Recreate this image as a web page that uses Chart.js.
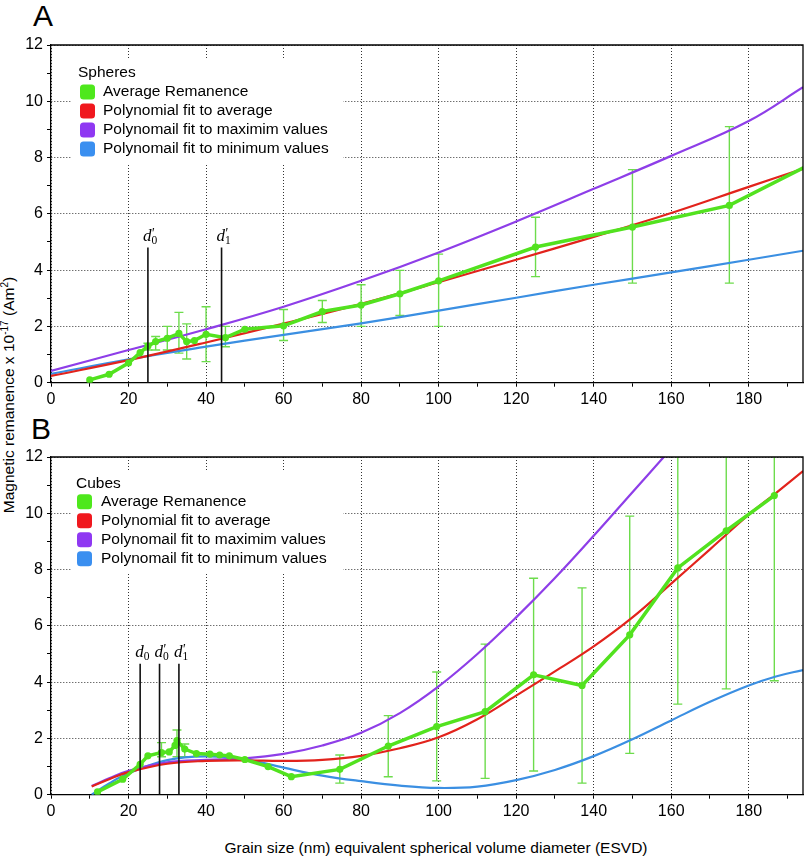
<!DOCTYPE html>
<html><head><meta charset="utf-8">
<script src="https://cdn.jsdelivr.net/npm/chart.js@4.4.1/dist/chart.umd.min.js"></script>
<style>
html,body{margin:0;padding:0;background:#fff;}
body{width:807px;height:857px;position:relative;overflow:hidden;font-family:"Liberation Sans",Arial,Helvetica,sans-serif;color:#000;}
canvas{position:absolute;left:0;}
#cA{top:0px;}
#cB{top:415px;}
.panel{position:absolute;font-size:30px;line-height:30px;}
#yt{position:absolute;left:9px;top:395px;transform:translate(-50%,-50%) rotate(-90deg);white-space:nowrap;font-size:15.5px;line-height:18px;}
#xt{position:absolute;left:436px;top:848px;transform:translate(-50%,-50%);white-space:nowrap;font-size:15.5px;line-height:18px;}
sup{font-size:0.65em;vertical-align:super;line-height:0;}
</style></head>
<body>
<div class="panel" style="left:33px;top:1px;">A</div>
<div class="panel" style="left:31px;top:414px;">B</div>
<div id="yt">Magnetic remanence x 10<sup>-17</sup> (Am<sup>2</sup>)</div>
<div id="xt">Grain size (nm) equivalent spherical volume diameter (ESVD)</div>
<canvas id="cA" width="807" height="415"></canvas>
<canvas id="cB" width="807" height="442"></canvas>
<script>
// ---------- Panel A : Spheres ----------
const sizesA   = [10, 15, 20, 23, 25, 27, 30, 33, 35, 37, 40, 45, 50, 60, 70, 80, 90, 100, 125, 150, 175, 200];
const avgA     = [0.1, 0.3, 0.7, 1.07, 1.3, 1.46, 1.58, 1.75, 1.46, 1.5, 1.72, 1.6, 1.9, 2.02, 2.53, 2.76, 3.16, 3.62, 4.82, 5.53, 6.3, 8.05];
const errLowA  = [null, null, null, null, 1.16, 1.16, 1.16, 1.05, 0.84, null, 0.75, 1.28, null, 1.5, 2.14, 2.0, 2.39, 2.0, 3.77, 3.54, 3.54, null];
const errHighA = [null, null, null, null, 1.4, 1.64, 2.0, 2.5, 2.09, null, 2.7, 2.0, null, 2.6, 2.92, 3.48, 3.99, 4.57, 5.88, 7.57, 9.1, null];
const fitXA    = [0, 20, 40, 60, 80, 100, 120, 140, 160, 180, 194];
const fitAvgA  = [0.24, 0.8, 1.43, 2.1, 2.8, 3.57, 4.37, 5.18, 6.03, 6.96, 7.6];
const fitMaxA  = [0.42, 1.16, 1.9, 2.7, 3.62, 4.63, 5.73, 6.89, 8.06, 9.3, 10.5];
const fitMinA  = [0.31, 0.83, 1.28, 1.7, 2.11, 2.56, 3.02, 3.48, 3.92, 4.37, 4.69];
const markerXA = [25, 44];
const markerTopA = 4.8;
const markerLabA = [['d', "'", '0'], ['d', "'", '1']];

// ---------- Panel B : Cubes ----------
const sizesB   = [12, 18.5, 23, 25, 28.5, 30.5, 32, 32.5, 34.5, 37.5, 41, 43.5, 46, 50, 56, 62, 74.5, 87, 99.5, 112, 124.5, 137, 149.3, 161.7, 174.2, 186.6];
const avgB     = [0.1, 0.55, 1.08, 1.38, 1.5, 1.52, 1.75, 1.92, 1.62, 1.46, 1.44, 1.41, 1.38, 1.25, 1.0, 0.64, 0.9, 1.73, 2.42, 2.95, 4.26, 3.88, 5.68, 8.06, 9.38, 10.63];
const errLowB  = [null, null, null, null, 1.35, null, null, 1.35, 1.35, null, null, null, null, null, null, null, 0.41, 0.64, 0.49, 0.58, 0.84, 0.41, 1.47, 3.22, 3.76, 4.05];
const errHighB = [null, null, null, null, 1.85, null, null, 2.3, 1.8, null, null, null, null, null, null, null, 1.41, 2.81, 4.36, 5.35, 7.69, 7.35, 9.9, 14, 15, 16];
const fitXB    = [10.5, 15, 20, 30, 40, 50, 60, 70, 80, 90, 100, 110, 120, 130, 140, 150, 160, 170, 180, 187, 194];
const fitAvgB  = [0.29, 0.55, 0.8, 1.1, 1.2, 1.22, 1.2, 1.24, 1.38, 1.65, 2.04, 2.68, 3.52, 4.38, 5.27, 6.3, 7.5, 8.72, 9.95, 10.72, 11.5];
const fitMaxB  = [0.31, 0.58, 0.85, 1.15, 1.24, 1.29, 1.45, 1.75, 2.2, 2.9, 3.85, 5.0, 6.3, 7.7, 9.2, 10.75, 12.3, 13.9, 15.5, 16.7, 17.9];
const fitMinB  = [0.0, 0.4, 0.76, 1.23, 1.36, 1.26, 0.96, 0.68, 0.48, 0.32, 0.24, 0.29, 0.52, 0.88, 1.37, 1.97, 2.64, 3.3, 3.88, 4.2, 4.43];
const markerXB = [23, 28, 33];
const markerTopB = 4.65;
const markerLabB = [['d', '', '0'], ['d', "'", '0'], ['d', "'", '1']];

// ---------- shared ----------
const xTickLabels = [0, 20, 40, 60, 80, 100, 120, 140, 160, 180];
const yTickLabels = [0, 2, 4, 6, 8, 10, 12];
const legendLabels = ['Average Remanence', 'Polynomial fit to average', 'Polynomail fit to maximim values', 'Polynomail fit to minimum values'];
const colors = {green: '#52e21f', red: '#e2231c', purple: '#8e3ee8', blue: '#3b8fe2', err: '#6ddc4c'};
const legendColors = ['#4ee81c', '#f0181e', '#8f38f2', '#3a8ff0'];

const FONT = '"Liberation Sans", Arial, Helvetica, sans-serif';
Chart.defaults.font.family = FONT;
Chart.defaults.color = '#000';

function pts(xs, ys) { return xs.map((x, i) => ({x: x, y: ys[i]})); }

function makeChart(canvasId, p) {
  const datasets = [];
  p.markerX.forEach((m) => {
    datasets.push({data: [{x: m, y: 0}, {x: m, y: p.markerTop}], borderColor: '#111', borderWidth: 1.6, pointRadius: 0, order: 0, tension: 0});
  });
  datasets.push({data: pts(p.sizes, p.avg), borderColor: colors.green, backgroundColor: colors.green, borderWidth: 3.5,
    pointRadius: 3.6, pointBorderWidth: 0, pointBackgroundColor: colors.green, tension: 0, order: 1});
  datasets.push({data: pts(p.fitX, p.fitAvg), borderColor: colors.red, borderWidth: 2.2, pointRadius: 0, tension: 0.4, order: 2});
  datasets.push({data: pts(p.fitX, p.fitMax), borderColor: colors.purple, borderWidth: 2.2, pointRadius: 0, tension: 0.4, order: 3});
  datasets.push({data: pts(p.fitX, p.fitMin), borderColor: colors.blue, borderWidth: 2.2, pointRadius: 0, tension: 0.4, order: 4});

  const errPlugin = {
    id: 'errBars',
    beforeDatasetsDraw(chart) {
      const {ctx, chartArea: ca, scales: {x, y}} = chart;
      ctx.save();
      ctx.fillStyle = '#fff';
      ctx.fillRect(ca.left + p.leg.boxL, ca.top + p.leg.boxT, p.leg.boxW, p.leg.boxH);
      ctx.restore();
      ctx.save();
      ctx.beginPath(); ctx.rect(ca.left, ca.top, ca.right - ca.left, ca.bottom - ca.top); ctx.clip();
      ctx.strokeStyle = colors.err; ctx.lineWidth = 1.4;
      p.sizes.forEach((xv, i) => {
        const lo = p.errLow[i], hi = p.errHigh[i];
        if (lo == null || hi == null) return;
        const px = x.getPixelForValue(xv), p1 = y.getPixelForValue(lo), p2 = y.getPixelForValue(hi);
        const cap = 4.5;
        ctx.beginPath();
        ctx.moveTo(px, p1); ctx.lineTo(px, p2);
        ctx.moveTo(px - cap, p1); ctx.lineTo(px + cap, p1);
        ctx.moveTo(px - cap, p2); ctx.lineTo(px + cap, p2);
        ctx.stroke();
      });
      ctx.restore();
    },
    afterDatasetsDraw(chart) {
      const {ctx, chartArea: ca, scales: {x, y}} = chart;
      ctx.save();
      ctx.strokeStyle = '#000'; ctx.lineWidth = 1.3;
      ctx.beginPath();
      ctx.moveTo(ca.left, ca.top); ctx.lineTo(ca.right, ca.top); ctx.lineTo(ca.right, ca.bottom);
      ctx.stroke();
      ctx.restore();
      // marker labels
      ctx.save();
      ctx.fillStyle = '#000'; ctx.textBaseline = 'alphabetic'; ctx.textAlign = 'left';
      p.markerX.forEach((m, i) => {
        const lx = x.getPixelForValue(m), top = y.getPixelForValue(p.markerTop);
        const base = top - 7;
        const lab = p.markerLab[i];
        ctx.font = 'italic 17px "Liberation Serif", "DejaVu Serif", serif';
        const sx = lx - 5;
        ctx.fillText(lab[0], sx, base);
        const w = ctx.measureText(lab[0]).width;
        if (lab[1]) {
          ctx.font = 'italic 14px "Liberation Serif", "DejaVu Serif", serif';
          ctx.fillText(lab[1], sx + w - 0.5, base - 3);
        }
        ctx.font = '11.5px "Liberation Serif", "DejaVu Serif", serif';
        ctx.fillText(lab[2], sx + w, base + 3.5);
      });
      ctx.restore();
      // legend
      ctx.save();
      ctx.font = '15.5px ' + FONT;
      ctx.fillStyle = '#000'; ctx.textBaseline = 'middle'; ctx.textAlign = 'left';
      ctx.fillText(p.leg.title, ca.left + p.leg.tx, ca.top + p.leg.ty);
      legendLabels.forEach((lab, i) => {
        const yy = ca.top + p.leg.rowY + i * p.leg.rowStep;
        ctx.fillStyle = legendColors[i];
        ctx.beginPath();
        if (ctx.roundRect) ctx.roundRect(ca.left + p.leg.bx, yy - 7.5, 15, 15, 3.5);
        else ctx.rect(ca.left + p.leg.bx, yy - 7.5, 15, 15);
        ctx.fill();
        ctx.fillStyle = '#000';
        ctx.fillText(lab, ca.left + p.leg.lx, yy);
      });
      ctx.restore();
    }
  };

  return new Chart(document.getElementById(canvasId), {
    type: 'line',
    data: {datasets: datasets},
    plugins: [errPlugin],
    options: {
      responsive: false, animation: false, devicePixelRatio: 1,
      layout: {padding: {top: p.padTop, right: 1, left: 0, bottom: 0}},
      plugins: {legend: {display: false}, tooltip: {enabled: false}},
      scales: {
        x: {
          type: 'linear', min: 0, max: 194,
          afterFit: (axis) => { axis.height = p.xAxisH; },
          ticks: {stepSize: 10, includeBounds: false, autoSkip: false, maxRotation: 0, padding: 3,
            font: {size: 16}, color: '#000',
            callback: (v) => xTickLabels.includes(v) ? String(v) : ''},
          grid: {color: (c) => (c.tick && xTickLabels.includes(c.tick.value)) ? '#333' : 'rgba(0,0,0,0)',
            tickColor: '#000', tickLength: 4, lineWidth: 1},
          border: {display: true, color: '#000', width: 1.3, dash: [1, 2]}
        },
        y: {
          min: 0, max: 12,
          afterFit: (axis) => { axis.width = 51; },
          ticks: {stepSize: 1, autoSkip: false, padding: 4, font: {size: 16}, color: '#000',
            callback: (v) => yTickLabels.includes(v) ? String(v) : ''},
          grid: {color: (c) => (c.tick && yTickLabels.includes(c.tick.value)) ? '#333' : 'rgba(0,0,0,0)',
            tickColor: '#000', tickLength: 4, lineWidth: 1},
          border: {display: true, color: '#000', width: 1.3, dash: [1, 2]}
        }
      }
    }
  });
}

makeChart('cA', {
  sizes: sizesA, avg: avgA, errLow: errLowA, errHigh: errHighA,
  fitX: fitXA, fitAvg: fitAvgA, fitMax: fitMaxA, fitMin: fitMinA,
  markerX: markerXA, markerTop: markerTopA, markerLab: markerLabA,
  padTop: 45, xAxisH: 32.3,
  leg: {title: 'Spheres', tx: 27, ty: 28, bx: 29, lx: 52, rowY: 47, rowStep: 19, boxL: 21, boxT: 15, boxW: 271, boxH: 103}
});
makeChart('cB', {
  sizes: sizesB, avg: avgB, errLow: errLowB, errHigh: errHighB,
  fitX: fitXB, fitAvg: fitAvgB, fitMax: fitMaxB, fitMin: fitMinB,
  markerX: markerXB, markerTop: markerTopB, markerLab: markerLabB,
  padTop: 42, xAxisH: 62.3,
  leg: {title: 'Cubes', tx: 25, ty: 26.5, bx: 26, lx: 50, rowY: 44.7, rowStep: 19, boxL: 21, boxT: 15, boxW: 271, boxH: 100}
});
</script>
</body></html>
